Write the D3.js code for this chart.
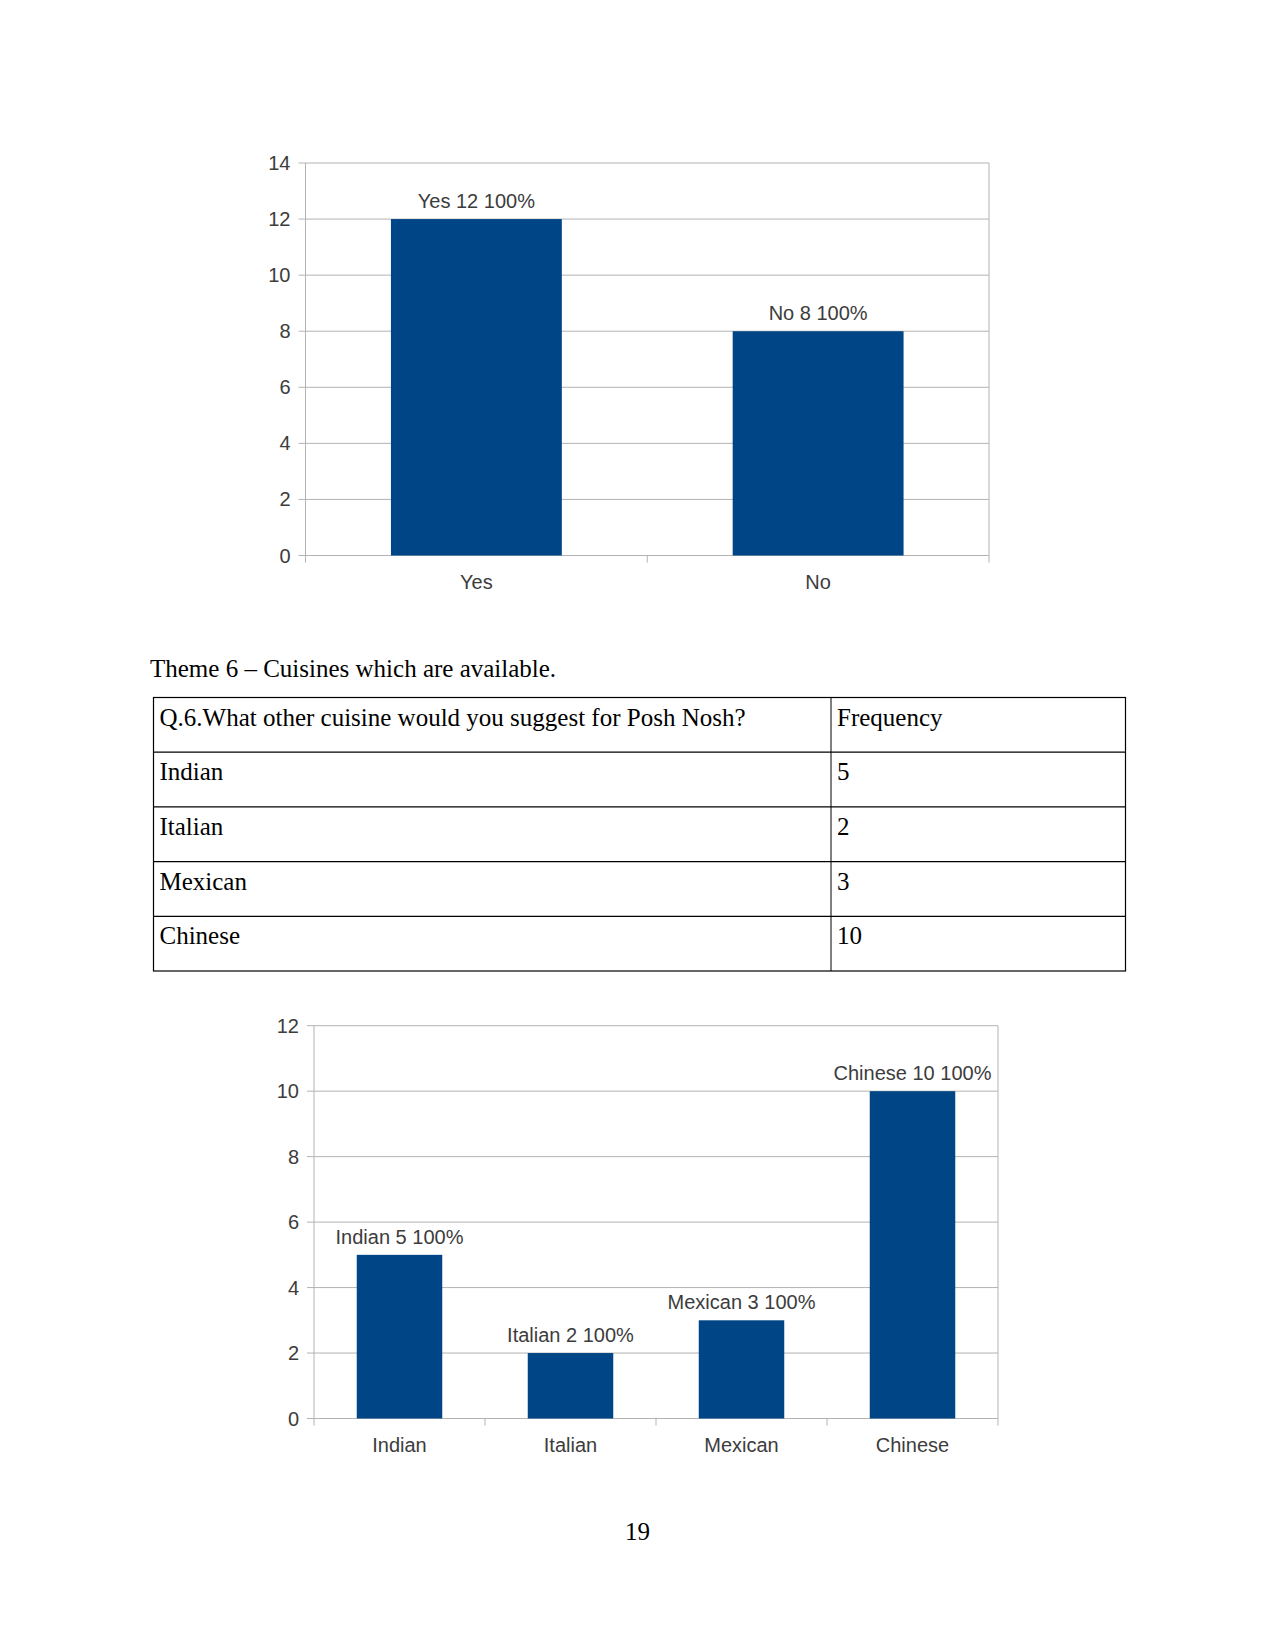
<!DOCTYPE html>
<html>
<head>
<meta charset="utf-8">
<script src="https://cdn.jsdelivr.net/npm/d3@7"></script>
<style>
  body { margin: 0; background: #fff; }
  svg { display: block; }
</style>
</head>
<body>
<svg id="page" width="1275" height="1650"></svg>
<script>
// chart 1 data
const answers = ['Yes', 'No']
const answerCounts = [12, 8]
const answerTicks = [0, 2, 4, 6, 8, 10, 12, 14]

// table / chart 2 data
const cuisines = ['Indian', 'Italian', 'Mexican', 'Chinese']
const cuisineCounts = [5, 2, 3, 10]
const cuisineTicks = [0, 2, 4, 6, 8, 10, 12]
const tableHeader = ['Q.6.What other cuisine would you suggest for Posh Nosh?', 'Frequency']

const barColor = '#004586'
const gridColor = '#b3b3b3'
const textColor = '#3c3c3c'
const sans = '"Liberation Sans", Arial, sans-serif'
const serif = '"Liberation Serif", "Times New Roman", serif'

const svg = d3.select('#page')

const drawChart = (cats, vals, ticks, box) => {
  let g = svg.append('g')
  let x = d3.scaleBand().domain(cats).range([box.left, box.right])
    .paddingInner(0.5).paddingOuter(0.25)
  let y = d3.scaleLinear().domain([0, d3.max(ticks)]).range([box.bottom, box.top])

  // grid lines
  g.selectAll('.grid')
    .data(ticks)
    .enter()
    .append('line')
    .attr('x1', box.left - 7)
    .attr('x2', box.right)
    .attr('y1', d => y(d))
    .attr('y2', d => y(d))
    .style('stroke', gridColor)
    .style('stroke-width', 1)

  // frame left / right
  g.append('line')
    .attr('x1', box.left).attr('x2', box.left)
    .attr('y1', box.top).attr('y2', box.bottom + 7)
    .style('stroke', gridColor)
  g.append('line')
    .attr('x1', box.right).attr('x2', box.right)
    .attr('y1', box.top).attr('y2', box.bottom + 7)
    .style('stroke', gridColor)

  // category boundary ticks
  let step = x.step()
  g.selectAll('.ctick')
    .data(d3.range(1, cats.length))
    .enter()
    .append('line')
    .attr('x1', i => box.left + i * step)
    .attr('x2', i => box.left + i * step)
    .attr('y1', box.bottom)
    .attr('y2', box.bottom + 7)
    .style('stroke', gridColor)

  // y labels
  g.selectAll('.ylab')
    .data(ticks)
    .enter()
    .append('text')
    .attr('x', box.left - 15)
    .attr('y', d => y(d) + 7)
    .attr('text-anchor', 'end')
    .style('font-family', sans)
    .style('font-size', '20px')
    .style('fill', textColor)
    .text(d => d)

  // bars
  g.selectAll('.bar')
    .data(cats)
    .enter()
    .append('rect')
    .attr('x', d => x(d))
    .attr('y', (d, i) => y(vals[i]))
    .attr('width', x.bandwidth())
    .attr('height', (d, i) => box.bottom - y(vals[i]))
    .style('fill', barColor)

  // data labels
  g.selectAll('.dlab')
    .data(cats)
    .enter()
    .append('text')
    .attr('x', d => x(d) + x.bandwidth() / 2)
    .attr('y', (d, i) => y(vals[i]) - 11)
    .attr('text-anchor', 'middle')
    .style('font-family', sans)
    .style('font-size', '20px')
    .style('fill', textColor)
    .text((d, i) => d + ' ' + vals[i] + ' 100%')

  // x labels
  g.selectAll('.xlab')
    .data(cats)
    .enter()
    .append('text')
    .attr('x', d => x(d) + x.bandwidth() / 2)
    .attr('y', box.bottom + 33)
    .attr('text-anchor', 'middle')
    .style('font-family', sans)
    .style('font-size', '20px')
    .style('fill', textColor)
    .text(d => d)
}

drawChart(answers, answerCounts, answerTicks, {left: 305.5, right: 989, top: 163, bottom: 555.5})

// heading
svg.append('text')
  .attr('x', 150)
  .attr('y', 677)
  .style('font-family', serif)
  .style('font-size', '25px')
  .style('fill', '#000')
  .text('Theme 6 \u2013 Cuisines which are available.')

// table
let tbl = {left: 153.5, mid: 831, right: 1125.5, top: 697.5, rowH: 54.7}
let rows = [tableHeader].concat(cuisines.map((c, i) => [c, String(cuisineCounts[i])]))
let tg = svg.append('g')
tg.append('rect')
  .attr('x', tbl.left).attr('y', tbl.top)
  .attr('width', tbl.right - tbl.left)
  .attr('height', tbl.rowH * rows.length)
  .style('fill', 'none').style('stroke', '#000').style('stroke-width', 1.2)
tg.selectAll('.rowline')
  .data(d3.range(1, rows.length))
  .enter()
  .append('line')
  .attr('x1', tbl.left).attr('x2', tbl.right)
  .attr('y1', i => tbl.top + i * tbl.rowH)
  .attr('y2', i => tbl.top + i * tbl.rowH)
  .style('stroke', '#000').style('stroke-width', 1.2)
tg.append('line')
  .attr('x1', tbl.mid).attr('x2', tbl.mid)
  .attr('y1', tbl.top).attr('y2', tbl.top + tbl.rowH * rows.length)
  .style('stroke', '#000').style('stroke-width', 1)
rows.forEach((r, i) => {
  tg.append('text')
    .attr('x', tbl.left + 6)
    .attr('y', tbl.top + i * tbl.rowH + 28)
    .style('font-family', serif).style('font-size', '25px').style('fill', '#000')
    .text(r[0])
  tg.append('text')
    .attr('x', tbl.mid + 6)
    .attr('y', tbl.top + i * tbl.rowH + 28)
    .style('font-family', serif).style('font-size', '25px').style('fill', '#000')
    .text(r[1])
})

drawChart(cuisines, cuisineCounts, cuisineTicks, {left: 314, right: 998, top: 1025.7, bottom: 1418.5})

// page number
svg.append('text')
  .attr('x', 637.5)
  .attr('y', 1540)
  .attr('text-anchor', 'middle')
  .style('font-family', serif)
  .style('font-size', '25px')
  .style('fill', '#000')
  .text('19')
</script>
</body>
</html>
